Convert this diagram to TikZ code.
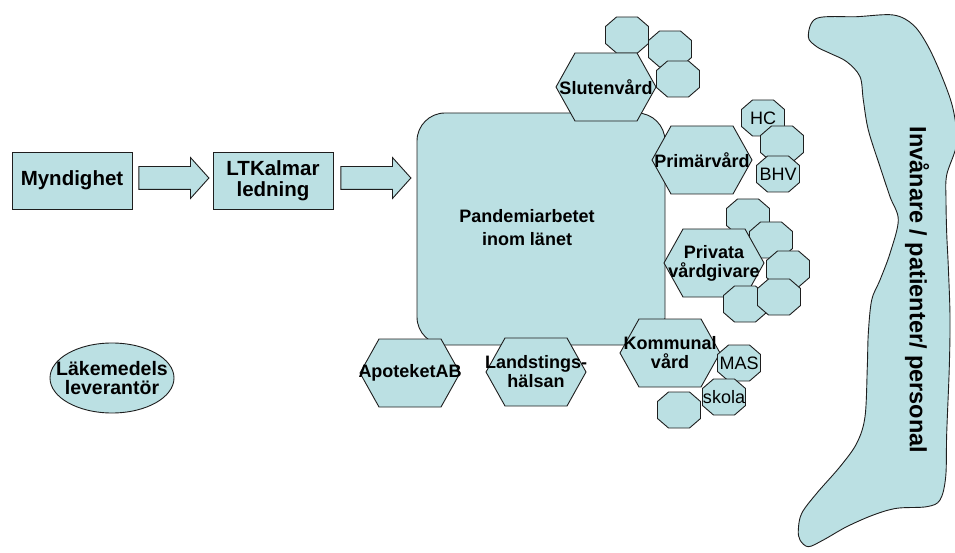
\documentclass[tikz,border=0pt]{standalone}
\usepackage{fontspec}
\setmainfont{Liberation Sans}
\usetikzlibrary{shapes.geometric,shapes.arrows,calc}
\definecolor{fillblue}{RGB}{187,224,227}
\definecolor{edgecol}{RGB}{30,30,30}
\tikzset{
  shp/.style={fill=fillblue, draw=edgecol, line width=0.9pt, line join=miter},
  lbl/.style={font=\fontsize{18}{19}\selectfont\bfseries, align=center, inner sep=0pt},
  lblr/.style={font=\fontsize{18}{19}\selectfont, align=center, inner sep=0pt},
  boxnode/.style={shp, rectangle, minimum width=120pt, minimum height=57pt, inner sep=0pt,
                  font=\fontsize{20.5}{21}\selectfont\bfseries, align=center},
  blockarrow/.style={shp, single arrow, minimum height=70pt, minimum width=0pt, inner sep=11pt,
                     single arrow head extend=9pt, single arrow tip angle=96, anchor=tail},
}
\newcommand{\hexat}[4]{%
  \draw[shp, shift={(#2,#3)}] (-50,0) -- (-31,-34) -- (31,-34) -- (50,0) -- (31,34) -- (-31,34) -- cycle;
  \node[lbl] (#1) at (#2,#3) {#4};}
\newcommand{\octat}[4]{%
  \draw[shp, shift={(#2,#3)}] (-21.5,-8.5) -- (-10.5,-18) -- (10.5,-18) -- (21.5,-8.5) -- (21.5,8.5) -- (10.5,18) -- (-10.5,18) -- (-21.5,8.5) -- cycle;
  \node[lblr] (#1) at (#2,#3) {#4};}
\begin{document}
\begin{tikzpicture}[x=1pt,y=-1pt]
\useasboundingbox (0,0) rectangle (955,553);

% central rounded rectangle
\node[shp, rectangle, rounded corners=28pt, minimum width=248pt, minimum height=232pt, inner sep=0pt] (pan) at (541,229) {};
\node[lbl, font=\fontsize{18}{23}\selectfont\bfseries] (pantxt) at (527,228) {Pandemiarbetet\\inom länet};

% Slutenvård cluster
\octat{sa}{627}{35}{}
\octat{sb}{670}{49}{}
\octat{sc}{678}{79}{}
\hexat{slut}{606}{87}{Slutenvård}

% Primärvård cluster
\hexat{prim}{702}{160}{Primärvård}
\octat{hc}{763}{118}{HC}
\octat{pm}{782}{144}{}
\octat{bhv}{778}{174}{BHV}

% Privata vårdgivare cluster
\octat{p1}{748}{217}{}
\octat{p2}{771}{240}{}
\hexat{priv}{714}{263}{Privata\\vårdgivare}
\octat{p3}{788}{269}{}
\octat{p5}{745}{304}{}
\octat{p4}{779}{297}{}

% Kommunal vård cluster
\hexat{komm}{670}{353}{Kommunal\\vård}
\octat{mas}{739}{363}{MAS}
\octat{skola}{724}{397}{skola}
\octat{k1}{679}{410}{}

% bottom hexagons
\hexat{apo}{410}{373}{ApoteketAB}
\hexat{lth}{536}{372}{Landstings-\\hälsan}

% left chain
\node[boxnode] (myn) at (72,180.5) {Myndighet};
\node[boxnode] (ltk) at (273,180.5) {LTKalmar\\ledning};
\node[blockarrow, yshift=2.5pt] (a1) at ([xshift=6pt]myn.east) {};
\node[blockarrow, yshift=2.5pt] (a2) at ([xshift=7pt]ltk.east) {};

% ellipse
\node[shp, ellipse, minimum width=124pt, minimum height=70pt, inner sep=0pt] (lak) at (112,378) {};
\node[font=\fontsize{19.5}{19}\selectfont\bfseries, align=center, inner sep=0pt] (laktxt) at (lak.center) {Läkemedels\\leverantör};

% inhabitants blob
\draw[shp] plot[smooth cycle, tension=0.55] coordinates {
 (808.3,36.7) (816.7,18.3) (856.7,16.7) (893.3,15) (913.3,25) (928.3,46.7) (943.3,80)
 (953.3,110) (956.7,143.3) (946.7,175) (946,200) (946.7,233.3) (948.3,266.7) (950,316.7)
 (949.3,366.7) (946.7,433.3) (945.7,476.7) (940,500) (926.7,506.7) (896.7,508.3) (873.3,515)
 (846.7,526.7) (823.3,540) (808.3,546.7) (800,540) (798.3,530) (801.7,513.3) (816.7,493.3)
 (840,466.7) (856.7,443.3) (865,416.7) (867.3,366.7) (868.3,333.3) (871.7,300) (880,280)
 (890,253.3) (898.3,220) (890,196.7) (880,166.7) (868.3,130) (863.3,100) (860,76.7)
 (846.7,61.7) (830,53.3) (816.7,46.7)};
\node[lbl, rotate=-90, font=\fontsize{23.5}{24}\selectfont\bfseries] (inv) at (917,290) {Invånare / patienter/ personal};
\end{tikzpicture}
\end{document}
